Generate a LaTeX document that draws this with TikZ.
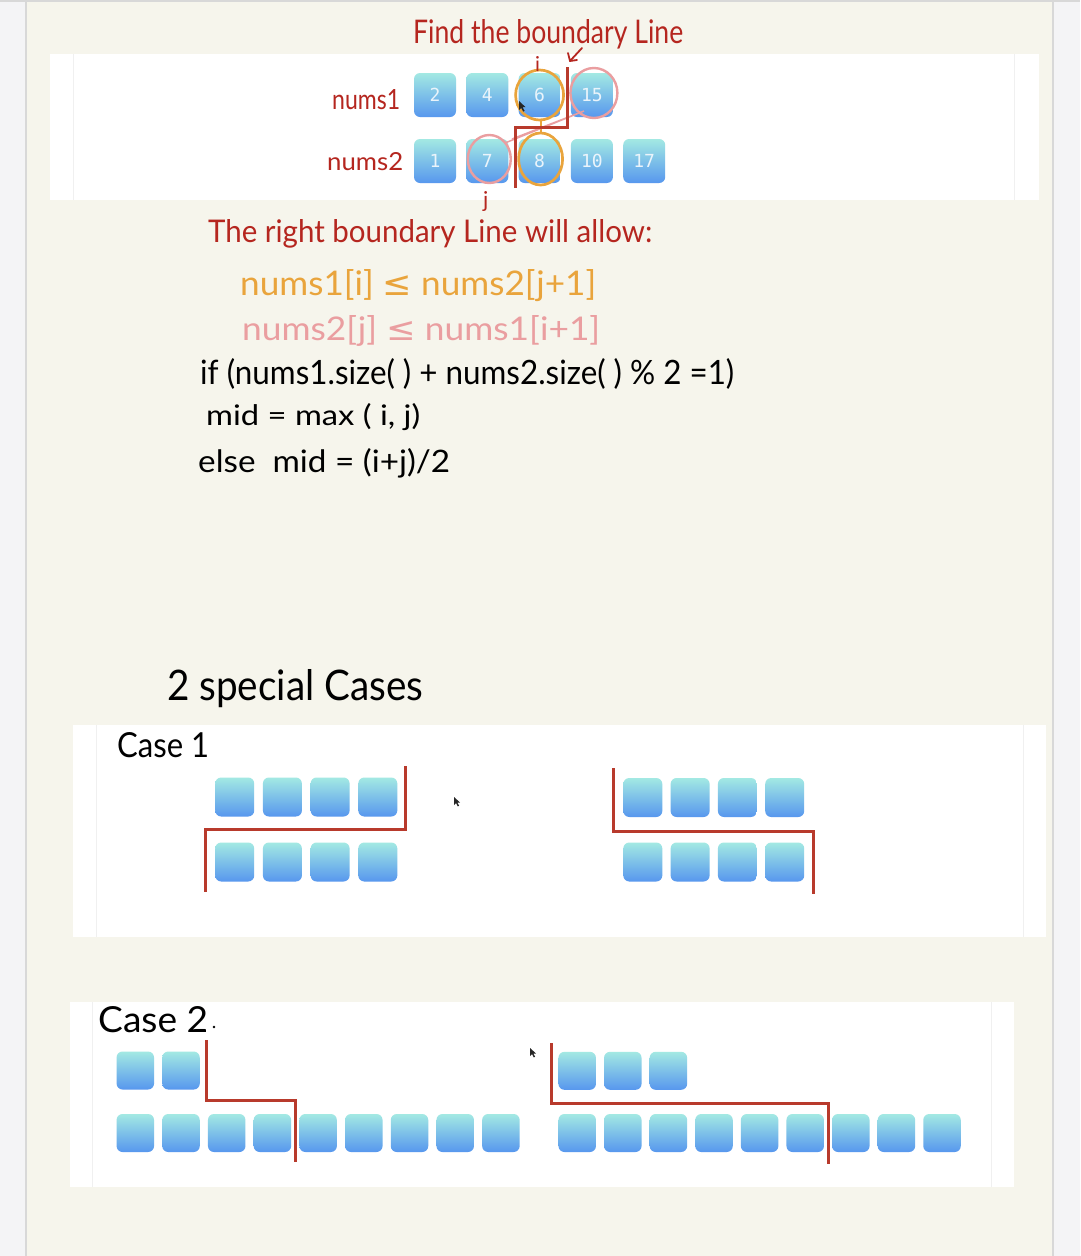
\documentclass[tikz,border=0pt]{standalone}
\usepackage{graphicx}
\usepackage{fontspec}
\setmainfont{Lato}
\newfontfamily\numfont{DejaVu Sans Mono}
\newfontfamily\symfont{DejaVu Sans}
\usetikzlibrary{calc}
\definecolor{outerg}{HTML}{F4F4F6}
\definecolor{shadowg}{HTML}{D8D8D8}
\definecolor{beige}{HTML}{F6F5EC}
\definecolor{innerl}{HTML}{F0F0F0}
\definecolor{hred}{HTML}{B5261F}
\definecolor{bred}{HTML}{B83A2C}
\definecolor{orangec}{HTML}{E9A43C}
\definecolor{pinkc}{HTML}{EA9EA0}
\definecolor{blktop}{HTML}{A3E9E3}
\definecolor{blkbot}{HTML}{5797EE}
\definecolor{blktxt}{HTML}{EAF4FB}
\newcommand{\hw}[3]{\resizebox{#1pt}{#2pt}{#3}}
\tikzset{
  blk/.style={rounded corners=6pt, top color=blktop, bottom color=blkbot, draw=none,
    minimum width=42pt, minimum height=44pt, inner sep=0pt, text=blktxt,
    font=\numfont\fontsize{18}{18}\selectfont},
  sblk/.style={blk, minimum width=39pt, minimum height=39pt},
  tblk/.style={blk, minimum width=37.5pt, minimum height=38pt},
  bound/.style={draw=bred, line width=3pt, line join=miter},
  hand/.style={inner sep=0pt, anchor=base west},
  panel/.style={fill=white, draw=none},
  ring/.style={line width=2.7pt},
  cursor/.style={fill=black!85}
}
\begin{document}
\begin{tikzpicture}[x=1pt,y=-1pt]
\useasboundingbox (0,0) rectangle (1080,1256);
% page background
\fill[outerg] (0,0) rectangle (1080,1256);
\fill[beige] (26,0) rectangle (1053,1256);
\fill[shadowg] (25,0) rectangle (27,1256);
\fill[shadowg] (1052,0) rectangle (1054,1256);
\fill[shadowg] (0,0) rectangle (1080,1.5);
% panels
\fill[panel] (50,54) rectangle (1039,200);
\draw[innerl, line width=1pt] (73,54) -- (73,200);
\draw[innerl, line width=1pt] (1014,54) -- (1014,200);
\fill[panel] (73,725) rectangle (1046,937);
\draw[innerl, line width=1pt] (96,725) -- (96,937);
\draw[innerl, line width=1pt] (1023,725) -- (1023,937);
\fill[panel] (70,1002) rectangle (1014,1187);
\draw[innerl, line width=1pt] (92,1002) -- (92,1187);
\draw[innerl, line width=1pt] (991,1002) -- (991,1187);

% ---------- top diagram ----------
\node[hand, text=hred] (title) at (413,43) {\hw{270}{24}{Find the boundary Line}};
\node[hand, text=hred] (lab1) at (332,109) {\hw{68}{20}{nums1}};
\node[hand, text=hred] (lab2) at (327,170) {\hw{76}{18}{nums2}};
\foreach \v [count=\k] in {2,4,6,15}
  \node[blk] (n1-\k) at ({435+52.3*(\k-1)},95) {\v};
\foreach \v [count=\k] in {1,7,8,10,17}
  \node[blk] (n2-\k) at ({435+52.3*(\k-1)},161) {\v};
% circles
\draw[orangec, ring] (n1-3.center) ellipse [x radius=24pt, y radius=25pt];
\draw[orangec, ring] ($(n2-3.center)+(1,-2)$) ellipse [x radius=22pt, y radius=26pt];
\coordinate (o1) at ($(n1-3.center)+(1,25)$);
\coordinate (o2) at ($(n2-3.center)+(1,-28)$);
\draw[orangec, line width=2.2pt] (o1) -- (o2);
\draw[pinkc, line width=2.4pt] ($(n1-4.center)+(2,-2)$) ellipse [x radius=23.5pt, y radius=25pt];
\draw[pinkc, line width=2.4pt] ($(n2-2.center)+(2,-2)$) ellipse [x radius=21.5pt, y radius=24pt];
\coordinate (p1) at (505,143);
\coordinate (p2) at (512,139);
\coordinate (p3) at (584,111);
\draw[pinkc, line width=1.5pt] (p1) -- (p3) -- (p2);
% boundary line
\coordinate (t1) at (567,67);
\coordinate (t2) at (567,127);
\coordinate (t3) at (515,127);
\coordinate (t4) at (515,188);
\draw[bound] (t1) -- (t2) -- (t3) -- (t4);
% small arrow
\coordinate (ar1) at (582,48);
\coordinate (ar2) at (570,61);
\draw[hred, line width=1.8pt, line cap=round, line join=round] (ar1) -- (ar2) -- (568,53);
\draw[hred, line width=1.8pt, line cap=round] (ar2) -- (577,60);
% i, j labels
\node[hand, text=hred] (ilab) at (535,71) {\resizebox{!}{15pt}{i}};
\node[hand, text=hred] (jlab) at (483,207) {\resizebox{!}{16pt}{j}};
% cursor
\fill[cursor] (519,101) -- ++(0,9) -- ++(2.2,-2.2) -- ++(2,3.8) -- ++(1.4,-0.7) -- ++(-2,-3.7) -- ++(3,0) -- cycle;

% ---------- formulas ----------
\node[hand, text=hred] (rule) at (208,242) {\hw{444}{23}{The right boundary Line will allow:}};
\node[hand, text=orangec] (c1) at (240,295) {\hw{356}{26}{nums1[i] {\symfont ≤} nums2[j+1]}};
\node[hand, text=pinkc] (c2) at (242,340) {\hw{358}{25}{nums2[j] {\symfont ≤} nums1[i+1]}};
\node[hand, text=black] (ifl) at (200,384) {\hw{534}{26}{if (nums1.size( ) + nums2.size( ) \% 2 =1)}};
\node[hand, text=black] (midl) at (206,425) {\hw{214}{22}{mid = max ( i, j)}};
\node[hand, text=black] (elsel) at (198,472) {\hw{252}{24}{else\ \ mid = (i+j)/2}};

% ---------- special cases ----------
\node[hand, text=black] (spec) at (167,700) {\hw{256}{31}{2 special Cases}};
\node[hand, text=black] (case1) at (117,757) {\hw{92}{25}{Case 1}};
\foreach \k in {1,...,4} {
  \node[sblk] (a\k) at ({234.7+47.7*(\k-1)},797) {};
  \node[sblk] (b\k) at ({234.7+47.7*(\k-1)},862) {};
  \node[sblk] (c\k) at ({642.8+47.3*(\k-1)},797.5) {};
  \node[sblk] (d\k) at ({642.8+47.3*(\k-1)},862) {};
}
\coordinate (u1) at (405,766);
\coordinate (u2) at (405,829);
\coordinate (u3) at (205,829);
\coordinate (u4) at (205,892);
\draw[bound] (u1) -- (u2) -- (u3) -- (u4);
\coordinate (v1) at (613,768);
\coordinate (v2) at (613,831);
\coordinate (v3) at (813,831);
\coordinate (v4) at (813,894);
\draw[bound] (v1) -- (v2) -- (v3) -- (v4);
\fill[cursor] (454,797) -- ++(0,8) -- ++(2,-2) -- ++(1.8,3.4) -- ++(1.3,-0.6) -- ++(-1.8,-3.3) -- ++(2.7,0) -- cycle;

\node[hand, text=black] (case2) at (98,1032) {\hw{110}{26}{Case 2}};
\fill (214,1027) circle (1.3pt);
\foreach \k in {1,2}
  \node[tblk] (e\k) at ({135.3+45.7*(\k-1)},1070.5) {};
\foreach \k in {1,...,9}
  \node[tblk] (f\k) at ({135.3+45.7*(\k-1)},1133) {};
\foreach \k in {1,2,3}
  \node[tblk] (g\k) at ({577.2+45.6*(\k-1)},1070.8) {};
\foreach \k in {1,...,9}
  \node[tblk] (h\k) at ({577.2+45.6*(\k-1)},1133) {};
\coordinate (w1) at (206,1040);
\coordinate (w2) at (206,1100);
\coordinate (w3) at (295,1100);
\coordinate (w4) at (295,1162);
\draw[bound] (w1) -- (w2) -- (w3) -- (w4);
\coordinate (z1) at (551,1043);
\coordinate (z2) at (551,1103);
\coordinate (z3) at (828,1103);
\coordinate (z4) at (828,1164);
\draw[bound] (z1) -- (z2) -- (z3) -- (z4);
\fill[cursor] (530,1048) -- ++(0,8) -- ++(2,-2) -- ++(1.8,3.4) -- ++(1.3,-0.6) -- ++(-1.8,-3.3) -- ++(2.7,0) -- cycle;
\end{tikzpicture}
\end{document}
